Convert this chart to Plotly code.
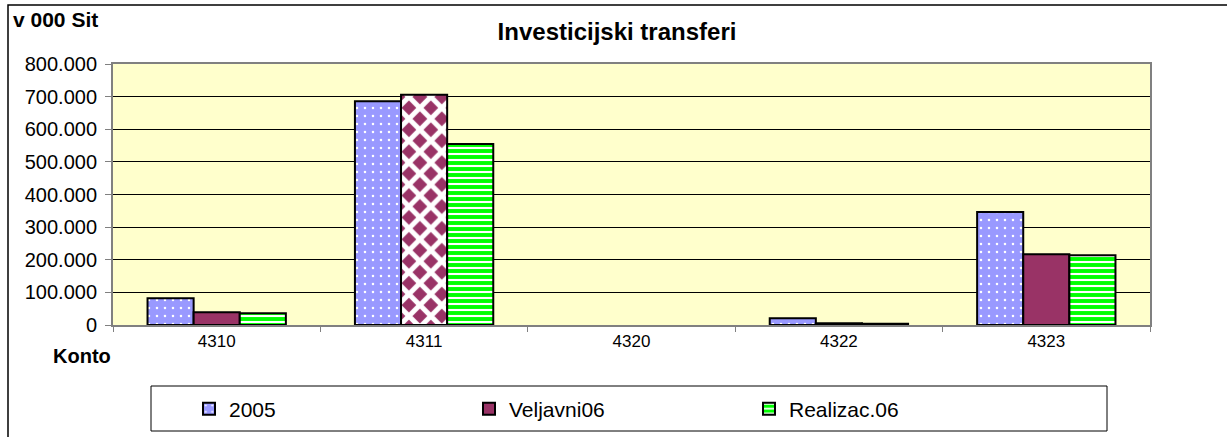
import plotly.graph_objects as go

categories = ["4310", "4311", "4320", "4322", "4323"]
series_names = ["2005", "Veljavni06", "Realizac.06"]
v2005 = [82000, 686000, None, 21000, 346000]
veljavni06 = [39000, 706000, None, 5000, 217000]
realizac06 = [36000, 555000, None, 4000, 214000]
y_ticks = [0, 100000, 200000, 300000, 400000, 500000, 600000, 700000, 800000]

FONT = "Liberation Sans, Arial, sans-serif"
W, H = 1227, 437
L, R, T, B = 113, 1150, 64, 325
pw, ph = R - L, B - T

def px_x(x):
    return (x - L) / pw

def px_y(y):
    return (B - y) / ph

fig = go.Figure()
fig.add_trace(go.Bar(
    name=series_names[0], x=categories, y=v2005,
    marker=dict(color="#9999FF", line=dict(color="black", width=2),
                pattern=dict(shape=".", bgcolor="#9999FF", fgcolor="white",
                             size=8, solidity=0.08, fillmode="replace")),
))
fig.add_trace(go.Bar(
    name=series_names[1], x=categories, y=veljavni06,
    marker=dict(color="#993366", line=dict(color="black", width=2),
                pattern=dict(shape=["", "x", "", "", ""], bgcolor="#993366",
                             fgcolor="white", size=15.5, solidity=0.55,
                             fillmode="replace")),
))
fig.add_trace(go.Bar(
    name=series_names[2], x=categories, y=realizac06,
    marker=dict(color="#00FF00", line=dict(color="black", width=2),
                pattern=dict(shape="-", bgcolor="white", fgcolor="#00FF00",
                             size=6, solidity=0.65, fillmode="replace")),
))

fig.update_layout(
    width=W, height=H,
    margin=dict(l=L, r=W - R, t=T, b=H - B, pad=0, autoexpand=False),
    paper_bgcolor="white",
    plot_bgcolor="#FFFFCC",
    separators=",.",
    barmode="group",
    bargap=0.333,
    bargroupgap=0,
    font=dict(family=FONT, color="black"),
    title=dict(text="<b>Investicijski transferi</b>", x=617 / W, xref="container",
               xanchor="center", y=1 - 32 / H, yref="container", yanchor="middle",
               font=dict(size=24, family=FONT, color="black")),
    showlegend=True,
    legend=dict(orientation="h", x=189 / W, y=1 - 409 / H, xref="container",
                yref="container", xanchor="left",
                yanchor="middle", bgcolor="rgba(0,0,0,0)", borderwidth=0,
                entrywidth=235, entrywidthmode="pixels", itemwidth=30,
                font=dict(size=21, family=FONT, color="black"),
                traceorder="normal"),
    xaxis=dict(type="category", tickson="boundaries", ticks="outside", ticklen=5,
               tickcolor="#808080", showline=True, linecolor="#808080", linewidth=2,
               mirror=True, showgrid=False, tickfont=dict(size=17, family=FONT)),
    yaxis=dict(range=[0, 800000], tickvals=y_ticks, tickformat=",d", ticks="outside",
               ticklen=6, tickcolor="#808080", showline=True, linecolor="#808080",
               linewidth=2, mirror=True, showgrid=True, gridcolor="black",
               gridwidth=1, zeroline=False, ticklabelstandoff=4,
               tickfont=dict(size=20, family=FONT)),
)

fig.add_annotation(text="<b>v 000 Sit</b>", xref="paper", yref="paper",
                   x=px_x(11), y=px_y(20), xanchor="left", yanchor="middle",
                   showarrow=False, font=dict(size=21, family=FONT, color="black"))
fig.add_annotation(text="<b>Konto</b>", xref="paper", yref="paper",
                   x=px_x(82), y=px_y(356), xanchor="center", yanchor="middle",
                   showarrow=False, font=dict(size=20, family=FONT, color="black"))

# outer chart border
fig.add_shape(type="rect", xref="paper", yref="paper",
              x0=px_x(8), x1=px_x(1240), y0=px_y(450), y1=px_y(5),
              line=dict(color="black", width=1.5), fillcolor="rgba(0,0,0,0)", layer="below")
# legend box
fig.add_shape(type="rect", xref="paper", yref="paper",
              x0=px_x(151), x1=px_x(1107), y0=px_y(431), y1=px_y(386),
              line=dict(color="black", width=1), fillcolor="rgba(0,0,0,0)", layer="below")

fig.write_html("out.html", config={"displayModeBar": False},
               post_script="document.body.style.margin='0px';")
